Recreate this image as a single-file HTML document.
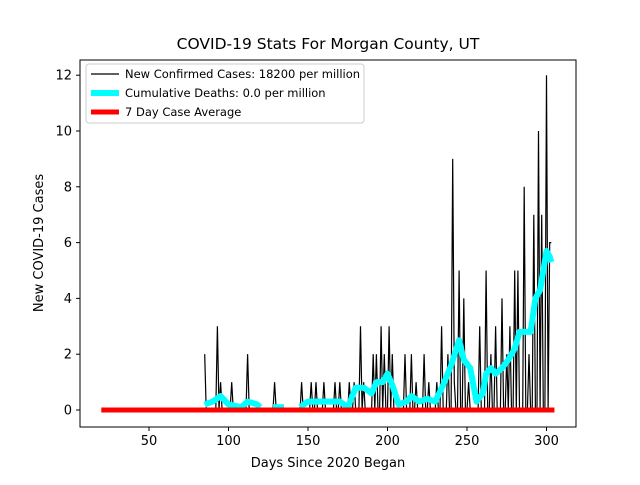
<!DOCTYPE html>
<html><head><meta charset="utf-8"><style>
html,body{margin:0;padding:0;background:#fff;}
text{font-family:"DejaVu Sans","Liberation Sans",sans-serif;fill:#000;}
</style></head><body>
<svg id="chart" width="640" height="480" xmlns="http://www.w3.org/2000/svg">
<rect width="640" height="480" fill="#fff"/>
<g id="plot"></g>
</svg>
<script>
const caseDays=[85,93,95,102,112,129,146,152,155,160,167,170,176,179,183,185,191,193,196,198,201,203,211,215,218,223,226,231,234,238,241,242,245,248,251,258,262,265,268,272,275,277,280,282,286,289,292,295,297,300,302,303];
const caseVals=[2,3,1,1,2,1,1,1,1,1,1,1,1,1,3,1,2,2,3,2,3,2,2,2,1,2,1,1,3,2,9,1,5,4,1,3,5,2,3,4,2,3,5,5,8,2,7,10,7,12,6,6];
const avgDays=[85,90,95,100,108,112,118,120,null,128,135,null,145,150,158,162,170,175,180,185,190,193,197,200,203,207,212,215,220,225,230,235,240,245,248,252,256,260,262,265,268,272,276,280,283,286,290,293,296,298,300,302,303];
const avgVals=[0.2,0.3,0.5,0.2,0.1,0.3,0.2,0.1,null,0.1,0.1,null,0.1,0.3,0.3,0.3,0.3,0.1,0.8,0.8,0.6,1.0,1.0,1.3,0.9,0.2,0.3,0.5,0.3,0.4,0.3,0.9,1.6,2.5,1.8,1.5,0.3,0.6,1.3,1.5,1.3,1.5,1.8,2.2,2.8,2.8,2.8,4.0,4.3,5.0,5.7,5.5,5.3];
const redStart=20, redEnd=305;
const xTicks=[50,100,150,200,250,300];
const yTicks=[0,2,4,6,8,10,12];
const NS="http://www.w3.org/2000/svg";
const X0=80,X1=576,Y0=60,Y1=427;
function sx(d){return 69.5+d*1.59;}
function sy(v){return 410-v*27.9;}
const g=document.getElementById('plot');
function el(t,a){const e=document.createElementNS(NS,t);for(const k in a)e.setAttribute(k,a[k]);g.appendChild(e);return e;}
let pts=[];
for(let d=85;d<=303;d++){const i=caseDays.indexOf(d);pts.push(sx(d).toFixed(1)+','+sy(i>=0?caseVals[i]:0).toFixed(1));}
const cl=el('polyline',{points:pts.join(' '),fill:'none',stroke:'#000','stroke-width':1.2});


let segs=[],cur=[];
for(let i=0;i<avgDays.length;i++){if(avgDays[i]===null){if(cur.length)segs.push(cur);cur=[];}else cur.push(sx(avgDays[i]).toFixed(1)+','+sy(avgVals[i]).toFixed(1));}
if(cur.length)segs.push(cur);
segs.forEach(s=>{const p=el('polyline',{points:s.join(' '),fill:'none',stroke:'#00ffff','stroke-width':6,'stroke-linejoin':'round'});

});
const rl=el('line',{x1:sx(redStart),x2:sx(redEnd),y1:sy(0),y2:sy(0),stroke:'#ff0000','stroke-width':5});


const fr=el('rect',{x:X0,y:Y0,width:X1-X0,height:Y1-Y0,fill:'none',stroke:'#000','stroke-width':1});


xTicks.forEach(t=>{const x=sx(t);el('line',{x1:x,x2:x,y1:Y1,y2:Y1+4,stroke:'#000'});
const tx=el('text',{x:x,y:Y1+18,'text-anchor':'middle','font-size':13});tx.textContent=t;

});
yTicks.forEach(t=>{const y=sy(t);el('line',{x1:X0-4,x2:X0,y1:y,y2:y,stroke:'#000'});
const tx=el('text',{x:X0-8,y:y+4.5,'text-anchor':'end','font-size':13});tx.textContent=t;

});
function txt(s,a,n){const t=el('text',a);t.textContent=s;return t;}
txt('COVID-19 Stats For Morgan County, UT',{x:328,y:49,'text-anchor':'middle','font-size':15.5},'chart-title');
txt('Days Since 2020 Began',{x:328,y:467,'text-anchor':'middle','font-size':13},'x-axis-title');
txt('New COVID-19 Cases',{x:0,y:0,'text-anchor':'middle','font-size':13,transform:'translate(43,243) rotate(-90)'},'y-axis-title');
const lg=el('rect',{x:86,y:64,width:278,height:59,rx:3,fill:'#fff','fill-opacity':0.8,stroke:'#ccc'});


el('line',{x1:91,x2:119,y1:74,y2:74,stroke:'#000','stroke-width':1.2});
el('line',{x1:91,x2:119,y1:93,y2:93,stroke:'#00ffff','stroke-width':6});
el('line',{x1:91,x2:119,y1:112,y2:112,stroke:'#ff0000','stroke-width':5});
txt('New Confirmed Cases: 18200 per million',{x:125,y:78,'font-size':11.5},'legend-entry-cases');
txt('Cumulative Deaths: 0.0 per million',{x:125,y:97,'font-size':11.5},'legend-entry-deaths');
txt('7 Day Case Average',{x:125,y:116,'font-size':11.5},'legend-entry-average');
</script>
</body></html>
